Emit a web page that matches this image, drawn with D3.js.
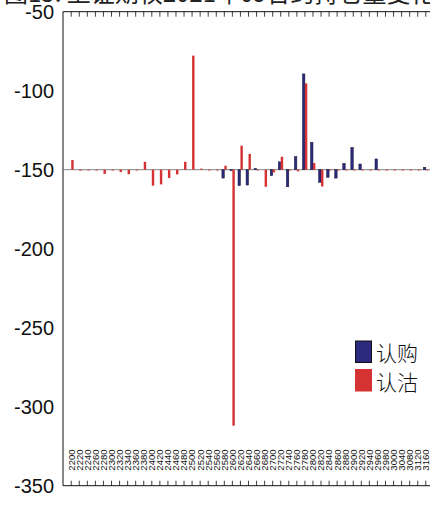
<!DOCTYPE html>
<html>
<head>
<meta charset="utf-8">
<script src="https://cdn.jsdelivr.net/npm/d3@7"></script>
<style>
  html, body { margin: 0; padding: 0; background: #fff; }
  svg { display: block; }
</style>
</head>
<body>
<svg id="chart" width="430" height="515"></svg>
<script>
// ---- data ----
const title = "图15: 上证期权2021年09合约持仓量变化";
const categories = ["2200","2220","2240","2260","2280","2300","2320","2340","2360","2380",
  "2400","2420","2440","2460","2480","2500","2520","2540","2560","2580",
  "2600","2620","2640","2660","2680","2700","2720","2740","2760","2780",
  "2800","2820","2840","2860","2880","2900","2920","2940","2960","2980",
  "3000","3040","3080","3120","3160"];
// 认购 (call)
const callValues = [-150,-150,-150,-150,-150,-150,-150,-150,-150,-150,
  -150,-150,-150,-150,-150,-150,-150,-150,-150,-155.3,
  -150.6,-160.1,-159.7,-149.2,-150,-153.8,-145,-160.8,-141.8,-89.4,
  -132.7,-158,-154.8,-155.3,-146,-135.9,-146.4,-150,-143.2,-150,
  -150,-150,-150,-150,-148.5];
// 认沽 (put)
const putValues = [-143.9,-150.6,-150.5,-150.5,-152.7,-150.5,-151.5,-152.9,-150.5,-145,
  -160.1,-159.3,-155.3,-153,-145,-77.8,-149.3,-150.5,-150.5,-147.5,
  -312,-134.8,-140,-150.4,-160.8,-151.7,-141.8,-150.4,-151,-95.4,
  -145.8,-160.6,-150.4,-150.4,-150.4,-150.4,-150.4,-150.4,-150.4,-150.4,
  -150.4,-150.4,-150.4,-150.4,-150.4];
const seriesNames = ["认购", "认沽"];
const yTicks = [-50,-100,-150,-200,-250,-300,-350];
const baseValue = -150;

// ---- layout ----
const svg = d3.select("#chart");
const colors = {call: "#2c2a7f", callStroke: "#10102e", put: "#d53333"};

const x = d3.scaleBand().domain(categories).range([63, 434]).paddingInner(0).paddingOuter(0.52);
const y = d3.scaleLinear().domain([-50, -350]).range([11.7, 485.7]);

// title (mostly cut off at top, as in the reference)
svg.append("text")
  .attr("x", 4).attr("y", 1.5)
  .attr("font-family", "'Noto Sans CJK SC', sans-serif")
  .attr("font-size", 24)
  .attr("fill", "#222")
  .text(title);

// y axis labels
svg.append("g").selectAll("text").data(yTicks).join("text")
  .attr("x", 54).attr("y", d => y(d))
  .attr("text-anchor", "end")
  .attr("dominant-baseline", "central")
  .attr("font-family", "'Liberation Sans', Arial, sans-serif")
  .attr("font-size", 20)
  .attr("fill", "#111")
  .text(d => d);

// frame lines
const frame = svg.append("g").attr("stroke", "#111").attr("stroke-width", 1).attr("fill", "none");
frame.append("line").attr("x1", 63).attr("x2", 63).attr("y1", y(-50)).attr("y2", y(-350));
frame.append("line").attr("x1", 63).attr("x2", 434).attr("y1", y(-50)).attr("y2", y(-50));
frame.append("line").attr("x1", 63).attr("x2", 434).attr("y1", y(-350)).attr("y2", y(-350));

// category ticks top and bottom
const tg = svg.append("g").attr("stroke", "#111").attr("stroke-width", 0.8);
tg.selectAll("line.tb").data(categories).join("line").attr("class", "tb")
  .attr("x1", d => x(d) + x.bandwidth() / 2).attr("x2", d => x(d) + x.bandwidth() / 2)
  .attr("y1", y(-350)).attr("y2", y(-350) - 5);
tg.selectAll("line.tt").data(categories).join("line").attr("class", "tt")
  .attr("x1", d => x(d) + x.bandwidth() / 2).attr("x2", d => x(d) + x.bandwidth() / 2)
  .attr("y1", y(-50)).attr("y2", y(-50) + 5);

// baseline
svg.append("line")
  .attr("x1", 63).attr("x2", 434)
  .attr("y1", y(baseValue)).attr("y2", y(baseValue))
  .attr("stroke", "#666").attr("stroke-width", 0.8);

// category labels (rotated, inside plot above bottom axis)
svg.append("g").selectAll("text").data(categories).join("text")
  .attr("transform", d => `translate(${x(d) + x.bandwidth() / 2 + 3.4},${y(-350) - 15}) rotate(-90)`)
  .attr("font-family", "'Liberation Sans', Arial, sans-serif")
  .attr("font-size", 9.6)
  .attr("fill", "#111")
  .text(d => d);

// bars
const bw = x.bandwidth() * 0.3;
const barTop = v => Math.min(y(v), y(baseValue));
const barH = v => Math.max(0.8, Math.abs(y(v) - y(baseValue)));

svg.append("g").selectAll("rect").data(categories).join("rect")
  .attr("x", (d) => x(d) + x.bandwidth() / 2 - bw)
  .attr("width", bw)
  .attr("y", (d, i) => barTop(callValues[i]))
  .attr("height", (d, i) => callValues[i] === baseValue ? 0 : barH(callValues[i]))
  .attr("fill", colors.call)
  .attr("stroke", colors.callStroke)
  .attr("stroke-width", 0.5);

svg.append("g").selectAll("rect").data(categories).join("rect")
  .attr("x", (d) => x(d) + x.bandwidth() / 2)
  .attr("width", bw)
  .attr("y", (d, i) => barTop(putValues[i]))
  .attr("height", (d, i) => barH(putValues[i]))
  .attr("fill", colors.put);

// legend
const legend = svg.append("g");
const legendColors = [colors.call, colors.put];
const legendStroke = ["#111", colors.put];
seriesNames.forEach((name, i) => {
  legend.append("rect")
    .attr("x", 355.5).attr("y", 341 + i * 28.5)
    .attr("width", 16).attr("height", 21.5)
    .attr("fill", legendColors[i])
    .attr("stroke", legendStroke[i]).attr("stroke-width", 1);
  legend.append("text")
    .attr("x", 376).attr("y", 352 + i * 28.5)
    .attr("dominant-baseline", "central")
    .attr("font-family", "'Noto Sans CJK SC', sans-serif")
    .attr("font-size", 21)
    .attr("font-weight", 300)
    .attr("fill", "#111")
    .text(name);
});
</script>
</body>
</html>
